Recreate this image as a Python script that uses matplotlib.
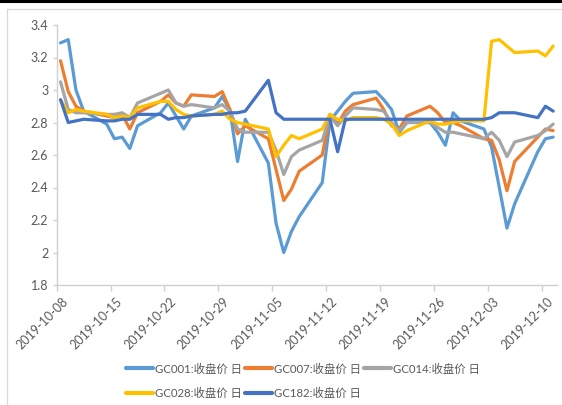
import matplotlib
matplotlib.use("Agg")
import matplotlib.pyplot as plt
import matplotlib.dates as mdates
from matplotlib.lines import Line2D
from matplotlib.transforms import ScaledTranslation
import pandas as pd

plt.rcParams['font.family'] = ['Lato', 'Noto Sans CJK SC', 'DejaVu Sans']

dates = ["2019-10-08", "2019-10-09", "2019-10-10", "2019-10-11", "2019-10-14", "2019-10-15",
         "2019-10-16", "2019-10-17", "2019-10-18", "2019-10-21", "2019-10-22", "2019-10-23",
         "2019-10-24", "2019-10-25", "2019-10-28", "2019-10-29", "2019-10-30", "2019-10-31",
         "2019-11-01", "2019-11-04", "2019-11-05", "2019-11-06", "2019-11-07", "2019-11-08",
         "2019-11-11", "2019-11-12", "2019-11-13", "2019-11-14", "2019-11-15", "2019-11-18",
         "2019-11-19", "2019-11-20", "2019-11-21", "2019-11-22", "2019-11-25", "2019-11-26",
         "2019-11-27", "2019-11-28", "2019-11-29", "2019-12-02", "2019-12-03", "2019-12-04",
         "2019-12-05", "2019-12-06", "2019-12-09", "2019-12-10", "2019-12-11"]

gc001 = [3.29, 3.31, 3.00, 2.87, 2.79, 2.70, 2.71, 2.64, 2.78, 2.86, 2.92, 2.84,
         2.76, 2.84, 2.89, 2.96, 2.88, 2.56, 2.82, 2.55, 2.18, 2.00, 2.13, 2.22,
         2.43, 2.81, 2.87, 2.93, 2.98, 2.99, 2.94, 2.88, 2.74, 2.80, 2.80, 2.74,
         2.66, 2.86, 2.81, 2.76, 2.65, 2.40, 2.15, 2.30, 2.62, 2.70, 2.71]

gc007 = [3.18, 2.99, 2.90, 2.87, 2.84, 2.83, 2.85, 2.76, 2.86, 2.93, 2.97, 2.92,
         2.90, 2.97, 2.96, 2.99, 2.88, 2.73, 2.78, 2.70, 2.51, 2.32, 2.39, 2.50,
         2.60, 2.85, 2.79, 2.87, 2.91, 2.95, 2.88, 2.78, 2.76, 2.84, 2.90, 2.86,
         2.80, 2.80, 2.78, 2.70, 2.69, 2.57, 2.38, 2.56, 2.71, 2.76, 2.75]

gc014 = [3.05, 2.88, 2.86, 2.86, 2.85, 2.85, 2.86, 2.83, 2.92, 2.98, 3.00, 2.92,
         2.90, 2.91, 2.89, 2.91, 2.87, 2.76, 2.74, 2.74, 2.63, 2.48, 2.59, 2.63,
         2.69, 2.84, 2.78, 2.84, 2.89, 2.88, 2.87, 2.80, 2.75, 2.80, 2.80, 2.77,
         2.74, 2.74, 2.73, 2.70, 2.74, 2.69, 2.59, 2.68, 2.72, 2.75, 2.79]

gc028 = [2.94, 2.86, 2.88, 2.87, 2.85, 2.83, 2.84, 2.83, 2.89, 2.93, 2.93, 2.88,
         2.85, 2.84, 2.85, 2.87, 2.82, 2.80, 2.79, 2.76, 2.59, 2.66, 2.72, 2.70,
         2.76, 2.85, 2.82, 2.81, 2.83, 2.83, 2.82, 2.79, 2.72, 2.75, 2.81, 2.79,
         2.79, 2.80, 2.81, 2.81, 3.30, 3.31, 3.27, 3.23, 3.24, 3.21, 3.27]

gc182 = [2.94, 2.80, 2.81, 2.82, 2.81, 2.81, 2.82, 2.82, 2.85, 2.85, 2.82, 2.83,
         2.83, 2.84, 2.85, 2.85, 2.86, 2.86, 2.87, 3.06, 2.86, 2.82, 2.82, 2.82,
         2.82, 2.82, 2.62, 2.82, 2.82, 2.82, 2.82, 2.82, 2.82, 2.82, 2.82, 2.82,
         2.82, 2.82, 2.82, 2.82, 2.83, 2.86, 2.86, 2.86, 2.83, 2.90, 2.87]

series_names = ["GC001:收盘价 日", "GC007:收盘价 日", "GC014:收盘价 日",
                "GC028:收盘价 日", "GC182:收盘价 日"]
series_colors = ["#5B9BD5", "#ED7D31", "#A5A5A5", "#FFC000", "#4472C4"]

tick_dates = ["2019-10-08", "2019-10-15", "2019-10-22", "2019-10-29", "2019-11-05",
              "2019-11-12", "2019-11-19", "2019-11-26", "2019-12-03", "2019-12-10"]
y_ticks = [1.8, 2.0, 2.2, 2.4, 2.6, 2.8, 3.0, 3.2, 3.4]
y_labels = ["1.8", "2", "2.2", "2.4", "2.6", "2.8", "3", "3.2", "3.4"]

W, H = 562, 405
fig = plt.figure(figsize=(W / 100, H / 100), dpi=100)
fig.patch.set_facecolor("white")

ax = fig.add_axes([56.7 / W, 1 - 285 / H, (557 - 56.7) / W, (285 - 25) / H])

# points sit in the middle of each day slot (Excel date axis)
x = pd.to_datetime(dates) + pd.Timedelta(hours=12)
all_series = [gc001, gc007, gc014, gc028, gc182]
handles = []
for vals, name, col in zip(all_series, series_names, series_colors):
    h, = ax.plot(x, vals, color=col, linewidth=2.3, solid_joinstyle="round",
                 solid_capstyle="round", label=name)
    handles.append(h)

ax.set_xlim(pd.Timestamp("2019-10-08"), pd.Timestamp("2019-12-12"))
ax.set_ylim(1.8, 3.4)

axis_col = "#D0D0D0"
text_col = "#595959"
for s in ["top", "right"]:
    ax.spines[s].set_visible(False)
for s in ["left", "bottom"]:
    ax.spines[s].set_color(axis_col)
    ax.spines[s].set_linewidth(1.0)

ax.set_xticks(pd.to_datetime(tick_dates))
ax.xaxis.set_major_formatter(mdates.DateFormatter("%Y-%m-%d"))
ax.set_yticks(y_ticks)
ax.set_yticklabels(y_labels)
ax.tick_params(axis="x", direction="out", length=4, width=1, color=axis_col,
               labelsize=9, labelcolor=text_col, pad=3.5)
ax.tick_params(axis="y", direction="out", length=3, width=1, color=axis_col,
               labelsize=9, labelcolor=text_col, pad=3)
shift = ScaledTranslation(5 / 100, 0, fig.dpi_scale_trans)
for lab in ax.get_xticklabels():
    lab.set_rotation(45)
    lab.set_ha("right")
    lab.set_rotation_mode("anchor")
    lab.set_va("top")
    lab.set_transform(lab.get_transform() + shift)

# legend: row 1 GC001, GC007, GC014 ; row 2 GC028, GC182
order = [0, 3, 1, 4, 2]
leg = fig.legend([handles[i] for i in order], [series_names[i] for i in order],
                 ncol=3, loc="center left", bbox_to_anchor=(118 / W, 1 - 381 / H),
                 frameon=False, fontsize=8.2, handlelength=2.4, handletextpad=0.15,
                 columnspacing=0.25, labelspacing=1.15, borderpad=0.2)
for t in leg.get_texts():
    t.set_color(text_col)
for lh in leg.get_lines():
    lh.set_linewidth(3)

# chart frame and top dark strip
fig.add_artist(Line2D([0, 1], [1 - 1.3 / H, 1 - 1.3 / H], transform=fig.transFigure,
                      color="black", linewidth=2.2))
fig.add_artist(Line2D([7 / W, 1], [1 - 9.3 / H, 1 - 9.3 / H], transform=fig.transFigure,
                      color="#D9D9D9", linewidth=0.9))
fig.add_artist(Line2D([7 / W, 7 / W], [0, 1 - 9.3 / H], transform=fig.transFigure,
                      color="#D9D9D9", linewidth=0.9))

fig.savefig("out.png", dpi=100)
